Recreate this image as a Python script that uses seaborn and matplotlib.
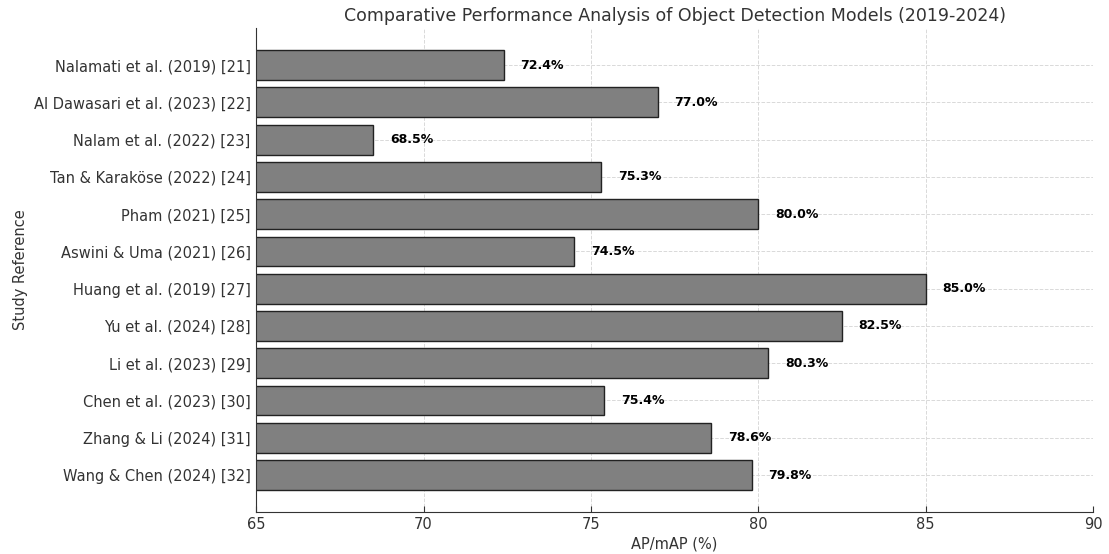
import pandas as pd
import seaborn as sns
import matplotlib.pyplot as plt

# data
studies = [
    "Nalamati et al. (2019) [21]",
    "Al Dawasari et al. (2023) [22]",
    "Nalam et al. (2022) [23]",
    "Tan & Karaköse (2022) [24]",
    "Pham (2021) [25]",
    "Aswini & Uma (2021) [26]",
    "Huang et al. (2019) [27]",
    "Yu et al. (2024) [28]",
    "Li et al. (2023) [29]",
    "Chen et al. (2023) [30]",
    "Zhang & Li (2024) [31]",
    "Wang & Chen (2024) [32]",
]
ap_values = [72.4, 77.0, 68.5, 75.3, 80.0, 74.5, 85.0, 82.5, 80.3, 75.4, 78.6, 79.8]
x_ticks = [65, 70, 75, 80, 85, 90]

df = pd.DataFrame({"Study": studies, "AP": ap_values})

sns.set_style("whitegrid", {"grid.linestyle": "--", "grid.color": "#d9d9d9",
                            "axes.edgecolor": "#333333"})
plt.rcParams["font.family"] = ["DejaVu Sans"]

fig = plt.figure(figsize=(11.09, 5.54), dpi=100)
ax = fig.add_axes([0.231, 0.076, 0.7546, 0.873])

sns.barplot(data=df, y="Study", x="AP", orient="h", color="#808080",
            edgecolor="#222222", linewidth=1.0, width=0.8, ax=ax, saturation=1)

for i, v in enumerate(ap_values):
    ax.text(v + 0.5, i, f"{v:.1f}%", va="center", ha="left",
            fontsize=9, fontweight="bold", color="black")

ax.set_xlim(65, 90)
ax.set_xticks(x_ticks)
ax.set_ylim(11.99, -0.99)
ax.grid(True, axis="both", linestyle="--", linewidth=0.7, color="#d9d9d9")
ax.set_axisbelow(True)
sns.despine(ax=ax, top=True, right=True)
ax.spines["left"].set_color("#333333")
ax.spines["bottom"].set_color("#333333")
ax.tick_params(axis="x", which="both", bottom=True, direction="in", length=4,
               pad=4, color="#333333", labelsize=10.5, labelcolor="#333333")
ax.tick_params(axis="y", which="both", left=True, direction="in", length=3,
               pad=4, color="#333333", labelsize=10.5, labelcolor="#333333")

ax.set_xlabel("AP/mAP (%)", fontsize=10.5, color="#333333", labelpad=3)
ax.set_ylabel("Study Reference", fontsize=10.5, color="#333333")
ax.set_title("Comparative Performance Analysis of Object Detection Models (2019-2024)",
             fontsize=12.5, color="#333333", pad=5)

plt.savefig("out.png", dpi=100)
